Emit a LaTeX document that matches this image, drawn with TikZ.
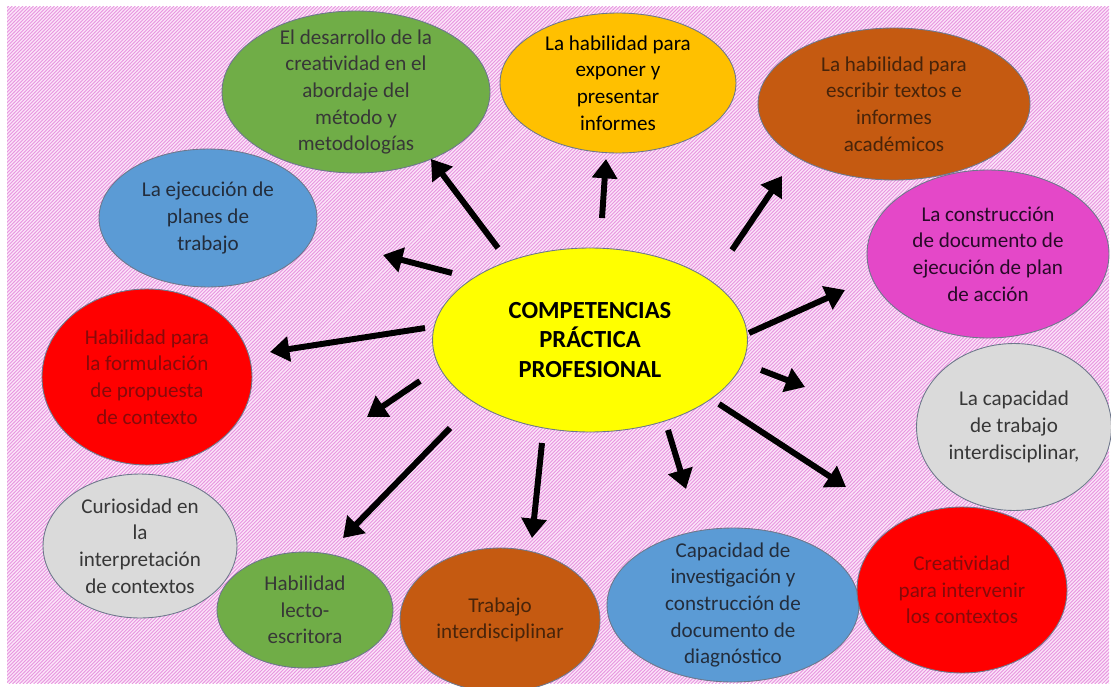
\documentclass[tikz,border=0pt]{standalone}
\usepackage{fontspec}
\setmainfont{Carlito}
\usetikzlibrary{shapes.geometric, arrows.meta, patterns}
\definecolor{verde}{RGB}{112,173,71}
\definecolor{ambar}{RGB}{255,192,0}
\definecolor{marron}{RGB}{197,90,17}
\definecolor{fucsia}{RGB}{228,72,200}
\definecolor{gris}{RGB}{218,218,218}
\definecolor{rojo}{RGB}{255,0,0}
\definecolor{azul}{RGB}{91,155,213}
\definecolor{amarillo}{RGB}{255,255,0}
\definecolor{fondo}{RGB}{251,228,248}
\definecolor{trama}{RGB}{232,150,224}
\definecolor{borde}{RGB}{110,120,140}
\definecolor{tgris}{RGB}{55,55,55}
\definecolor{trojo}{RGB}{135,10,10}
\definecolor{tmarron}{RGB}{72,36,10}
\definecolor{tazul}{RGB}{35,45,60}
\definecolor{tfucsia}{RGB}{40,10,40}
% fine diagonal hatching for the background
\pgfdeclarepatternformonly{trama fina}{\pgfqpoint{-1pt}{-1pt}}{\pgfqpoint{3pt}{3pt}}{\pgfqpoint{2pt}{2pt}}{
  \pgfsetlinewidth{0.5pt}
  \pgfpathmoveto{\pgfqpoint{0pt}{0pt}}
  \pgfpathlineto{\pgfqpoint{2.1pt}{2.1pt}}
  \pgfusepath{stroke}}
\tikzstyle{bubble} = [ellipse, draw=borde, line width=0.5pt, inner sep=0pt]
\tikzstyle{txt} = [font=\fontsize{12}{15.2}\selectfont, align=center, inner sep=0pt]
\tikzstyle{arrow} = [line width=3.4pt, -{Triangle[length=11pt,width=14pt]}]

\begin{document}
\begin{tikzpicture}[x=0.02cm, y=-0.02cm]

\useasboundingbox (0,0) rectangle (1111,686);
\fill[fondo] (7,7) rectangle (1109,683);
\fill[pattern=trama fina, pattern color=trama] (7,7) rectangle (1109,683);

\node (creatividad) [bubble, fill=verde, minimum width=5.36cm, minimum height=3.24cm,
  label={[txt, text=tgris]center:El desarrollo de la\\creatividad en el\\abordaje del\\método y\\metodologías}] at (356,92) {};
\node (exponer) [bubble, fill=ambar, minimum width=4.72cm, minimum height=2.8cm,
  label={[txt, text=black]center:La habilidad para\\exponer y\\presentar\\informes}] at (618,83) {};
\node (escribir) [bubble, fill=marron, minimum width=5.44cm, minimum height=3.04cm,
  label={[txt, text=tmarron]center:La habilidad para\\escribir textos e\\informes\\académicos}] at (894,104) {};
\node (construccion) [bubble, fill=fucsia, minimum width=4.84cm, minimum height=3.36cm,
  label={[txt, text=tfucsia]center:La construcción\\de documento de\\ejecución de plan\\de acción}] at (988,254) {};
\node (capacidad) [bubble, fill=gris, minimum width=3.9cm, minimum height=3.34cm,
  label={[txt, text=tgris]center:La capacidad\\de trabajo\\interdisciplinar,}] at (1014,427) {};
\node (investigacion) [bubble, fill=azul, minimum width=5.04cm, minimum height=3.08cm,
  label={[txt, text=tazul]center:Capacidad de\\investigación y\\construcción de\\documento de\\diagnóstico}] at (733,605) {};
\node (intervenir) [bubble, fill=rojo, minimum width=4.2cm, minimum height=3.32cm,
  label={[txt, text=trojo]center:Creatividad\\para intervenir\\los contextos}] at (962,590) {};
\node (trabajo) [bubble, fill=marron, minimum width=4.0cm, minimum height=2.88cm,
  label={[txt, text=tmarron]center:Trabajo\\interdisciplinar}] at (500,620) {};
\node (curiosidad) [bubble, fill=gris, minimum width=3.88cm, minimum height=2.88cm,
  label={[txt, text=tgris]center:Curiosidad en\\la\\interpretación\\de contextos}] at (140,546) {};
\node (lecto) [bubble, fill=verde, minimum width=3.52cm, minimum height=2.32cm,
  label={[txt, text=tgris]center:Habilidad\\lecto-\\escritora}] at (305,610) {};
\node (formulacion) [bubble, fill=rojo, minimum width=4.2cm, minimum height=3.52cm,
  label={[txt, text=trojo]center:Habilidad para\\la formulación\\de propuesta\\de contexto}] at (147,377) {};
\node (ejecucion) [bubble, fill=azul, minimum width=4.36cm, minimum height=2.76cm,
  label={[txt, text=tazul]center:La ejecución de\\planes de\\trabajo}] at (208,218) {};
\node (competencias) [bubble, fill=amarillo, minimum width=6.3cm, minimum height=3.68cm,
  label={[txt, font=\fontsize{14}{17}\selectfont\bfseries]center:COMPETENCIAS\\PRÁCTICA\\PROFESIONAL}] at (590,340) {};

% arrow ends
\coordinate (s1) at (498,248);  \coordinate (e1) at (431,159);
\coordinate (s2) at (602,218);  \coordinate (e2) at (606,159);
\coordinate (s3) at (732,250);  \coordinate (e3) at (782,176);
\coordinate (s4) at (749,333);  \coordinate (e4) at (845,290);
\coordinate (s5) at (761,370);  \coordinate (e5) at (805,387);
\coordinate (s6) at (719,404);  \coordinate (e6) at (846,487);
\coordinate (s7) at (668,430);  \coordinate (e7) at (686,489);
\coordinate (s8) at (542,443);  \coordinate (e8) at (532,538);
\coordinate (s9) at (450,428);  \coordinate (e9) at (343,538);
\coordinate (s10) at (420,381); \coordinate (e10) at (367,417);
\coordinate (s11) at (425,328); \coordinate (e11) at (270,352);
\coordinate (s12) at (452,273); \coordinate (e12) at (383,255);

\draw [arrow] (s1) -- (e1);
\draw [arrow] (s2) -- (e2);
\draw [arrow] (s3) -- (e3);
\draw [arrow] (s4) -- (e4);
\draw [arrow] (s5) -- (e5);
\draw [arrow] (s6) -- (e6);
\draw [arrow] (s7) -- (e7);
\draw [arrow] (s8) -- (e8);
\draw [arrow] (s9) -- (e9);
\draw [arrow] (s10) -- (e10);
\draw [arrow] (s11) -- (e11);
\draw [arrow] (s12) -- (e12);

\end{tikzpicture}
\end{document}
